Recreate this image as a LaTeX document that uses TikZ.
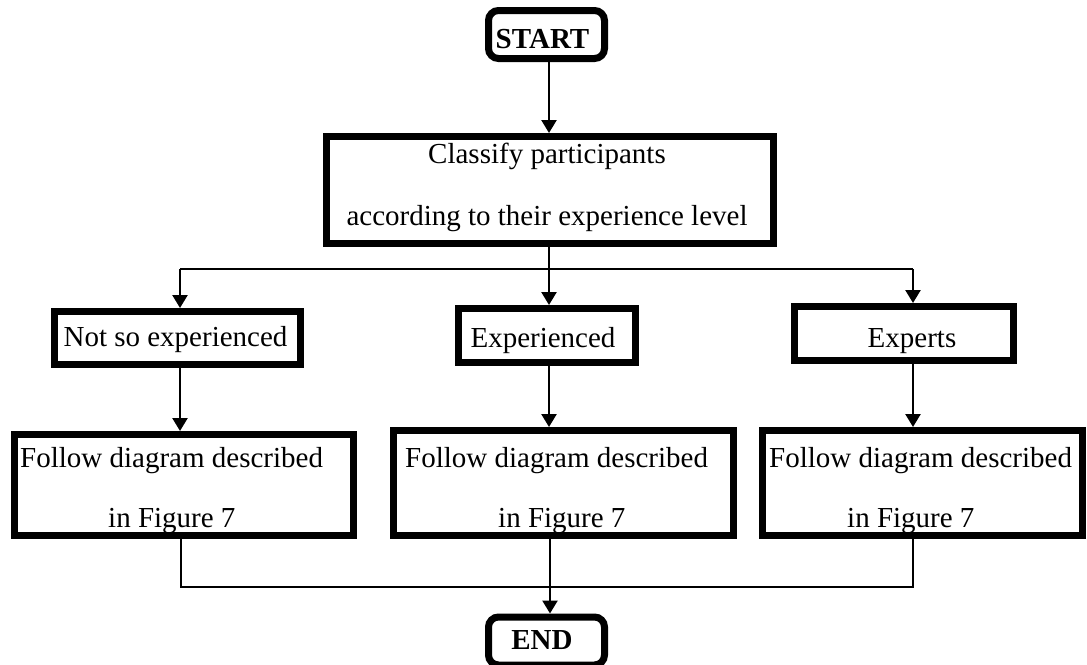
\documentclass[tikz,border=0pt]{standalone}
\usepackage{fontspec}
\setmainfont{Liberation Serif}
\usetikzlibrary{arrows.meta}
\begin{document}
\begin{tikzpicture}[x=1pt,y=-1pt,
  boxstyle/.style={draw=black,line width=7pt,fill=white,rectangle,inner sep=0pt},
  termstyle/.style={boxstyle,rounded corners=10pt},
  txt/.style={inner sep=0pt,font=\fontsize{29}{35}\selectfont},
  btxt/.style={inner sep=0pt,font=\fontsize{29}{35}\selectfont\bfseries},
  arr/.style={line width=2.5pt,-{Triangle[width=15pt,length=13pt]}},
  thinline/.style={line width=1.3pt},
  thickline/.style={line width=2.5pt}]
\useasboundingbox (0,0) rectangle (1087,664);
% boxes
\node[termstyle,minimum width=116pt,minimum height=48pt] (start) at (546.5,34.5) {};
\node[boxstyle,minimum width=447pt,minimum height=107pt] (classify) at (550,190) {};
\node[boxstyle,minimum width=246pt,minimum height=53pt] (notso) at (177.5,338) {};
\node[boxstyle,minimum width=177pt,minimum height=54pt] (exper) at (547,335.5) {};
\node[boxstyle,minimum width=219pt,minimum height=54pt] (experts) at (904,333.5) {};
\node[boxstyle,minimum width=339pt,minimum height=101pt] (fa) at (184,485) {};
\node[boxstyle,minimum width=340pt,minimum height=105pt] (fb) at (563.5,483) {};
\node[boxstyle,minimum width=320pt,minimum height=105pt] (fc) at (922.5,483) {};
\node[termstyle,minimum width=116pt,minimum height=48pt] (end) at (546.5,641) {};
% texts
\node[btxt,anchor=base] (tstart) at (542.5,48) {START};
\node[btxt,anchor=base] (tend) at (542,649) {END};
\node[txt,anchor=base] (tc1) at (547,163) {Classify participants};
\node[txt,anchor=base] (tc2) at (547,225) {according to their experience level};
\node[txt,anchor=base] (tnotso) at (175.5,346) {Not so experienced};
\node[txt,anchor=base] (texper) at (543,347) {Experienced};
\node[txt,anchor=base] (texperts) at (912,347) {Experts};
\node[txt,anchor=base west] (fa1) at (20,467) {Follow diagram described};
\node[txt,anchor=base west] (fa2) at (108,527) {in Figure 7};
\node[txt,anchor=base west] (fb1) at (405,467) {Follow diagram described};
\node[txt,anchor=base west] (fb2) at (498,527) {in Figure 7};
\node[txt,anchor=base west] (fc1) at (769,467) {Follow diagram described};
\node[txt,anchor=base west] (fc2) at (847,527) {in Figure 7};
% column coordinates
\coordinate (cl) at (180,269);
\coordinate (cm) at (549,269);
\coordinate (cr) at (913,269);
\coordinate (jl) at (181,587);
\coordinate (jm) at (550,587);
\coordinate (jr) at (913,587);
% connectors
\draw[arr] (start.south -| cm) -- (classify.north -| cm);
\draw[thickline] (classify.south -| cm) -- (cm);
\draw[thinline] (cl) -- (cr);
\draw[arr] (cl) -- (notso.north -| cl);
\draw[arr] (cm) -- (exper.north -| cm);
\draw[arr] (cr) -- (experts.north -| cr);
\draw[arr] (notso.south -| cl) -- (fa.north -| cl);
\draw[arr] (exper.south -| cm) -- (fb.north -| cm);
\draw[arr] (experts.south -| cr) -- (fc.north -| cr);
\draw[thinline] (fa.south -| jl) -- (jl) -- (jr) -- (fc.south -| jr);
\draw[arr] (fb.south -| jm) -- (end.north -| jm);
\end{tikzpicture}
\end{document}
